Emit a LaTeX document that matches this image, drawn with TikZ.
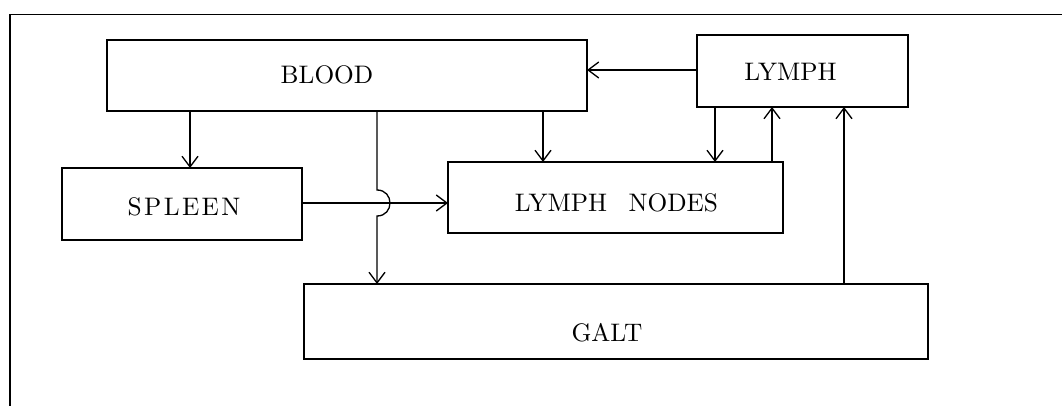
\documentclass[tikz,border=0pt]{standalone}
\usepackage{fontspec}
\setmainfont{lmroman10-regular.otf}
\usetikzlibrary{arrows.meta}

\tikzset{
  x=0.75pt, y=-0.75pt,
  frameline/.style={line width=1.1pt},
  box/.style={draw, line width=1pt, rectangle, inner sep=0pt, outer sep=0pt},
  lbl/.style={inner sep=0pt, font=\fontsize{19pt}{23pt}\selectfont},
  arr/.style={line width=1pt, -{Straight Barb[length=8pt,width=12pt,line width=1pt]}}
}

\begin{document}
\begin{tikzpicture}
  \useasboundingbox (0,0) rectangle (1062,406);

  % outer frame (open on the right and at the bottom)
  \draw[frameline] (10,406) -- (10,14.5) -- (1062,14.5);

  % compartments
  \node[box, minimum width=360pt,   minimum height=53.25pt] (blood)  at (347,75.5)  {};
  \node[box, minimum width=158.25pt,minimum height=54pt]    (lymph)  at (802.5,71)  {};
  \node[box, minimum width=180pt,   minimum height=54pt]    (spleen) at (182,204)   {};
  \node[box, minimum width=251.25pt,minimum height=53.25pt] (ln)     at (615.5,197.5) {};
  \node[box, minimum width=468pt,   minimum height=56.25pt] (galt)   at (616,321.5) {};

  % labels
  \node[lbl] (bloodtxt)  at ([shift={(-20,-1)}]blood.center)  {BLOOD};
  \node[lbl] (lymphtxt)  at ([shift={(-12,1)}]lymph.center)   {LYMPH};
  \node[lbl] (spleentxt) at ([shift={(2,3)}]spleen.center)    {S\kern1.8pt P\kern1.8pt L\kern1.8pt E\kern1.8pt E\kern1.8pt N};
  \node[lbl] (lntxt)     at ([shift={(1,5)}]ln.center)        {LYMPH\hspace{0.85em}NODES};
  \node[lbl] (galttxt)   at ([shift={(-9,11)}]galt.center)    {GALT};

  % connector columns and rows
  \coordinate (cA) at (190,0);
  \coordinate (cB) at (377,0);
  \coordinate (cC) at (543,0);
  \coordinate (cD) at (715,0);
  \coordinate (cE) at (772,0);
  \coordinate (cF) at (844,0);
  \coordinate (rH) at (0,70);
  \coordinate (rS) at (0,203);
  \coordinate (hopin)  at (377,190);
  \coordinate (hopout) at (377,216);

  % flows
  \draw[arr] (blood.south -| cA) -- (spleen.north -| cA);
  \draw[arr] (blood.south -| cB) -- (hopin)
             .. controls +(17.3,0) and +(17.3,0) .. (hopout)
             -- (galt.north -| cB);
  \draw[arr] (blood.south -| cC) -- (ln.north -| cC);
  \draw[arr] (lymph.west |- rH) -- (blood.east |- rH);
  \draw[arr] (lymph.south -| cD) -- (ln.north -| cD);
  \draw[arr] (ln.north -| cE) -- (lymph.south -| cE);
  \draw[arr] (galt.north -| cF) -- (lymph.south -| cF);
  \draw[arr] (spleen.east |- rS) -- (ln.west |- rS);
\end{tikzpicture}
\end{document}
